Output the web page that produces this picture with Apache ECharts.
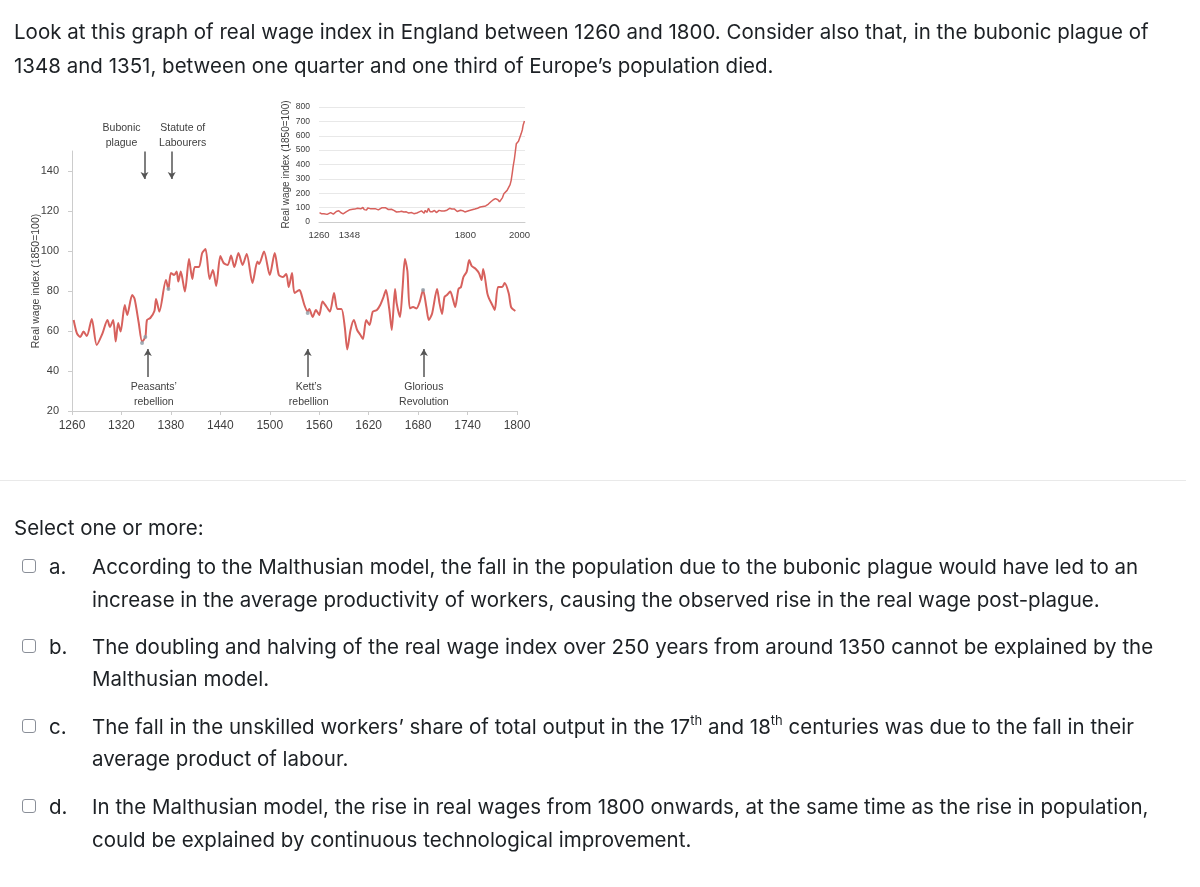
<!DOCTYPE html>
<html><head><meta charset="utf-8">
<script src="https://cdn.jsdelivr.net/npm/echarts@6/dist/echarts.min.js"></script>
<style>
html,body{margin:0;padding:0;background:#fff;}
#chart{position:absolute;left:0;top:0;width:1200px;height:887px;}
.t{position:absolute;font-family:Inter,"Liberation Sans",Arial,sans-serif;font-size:20.5px;color:#1d2125;white-space:nowrap;line-height:34px;height:34px;}
.t sup{font-size:13px;line-height:0;position:relative;top:-1px;}
.cb{position:absolute;left:22px;width:12px;height:12px;border:1.5px solid #8a8f98;border-radius:3px;background:#fff;}
.sep{position:absolute;left:0;top:480px;width:1186px;height:1px;background:#e9e9e9;}
</style></head><body>
<div id="chart"></div>
<div class="t" style="left:14px;top:15px">Look at this graph of real wage index in England between 1260 and 1800. Consider also that, in the bubonic plague of</div>
<div class="t" style="left:14px;top:49px">1348 and 1351, between one quarter and one third of Europe’s population died.</div>
<div class="sep"></div>
<div class="t" style="left:14px;top:511px">Select one or more:</div>
<div class="cb" style="top:559px"></div>
<div class="t" style="left:49px;top:550px">a.</div>
<div class="t" style="left:92px;top:550px">According to the Malthusian model, the fall in the population due to the bubonic plague would have led to an</div>
<div class="t" style="left:92px;top:583px">increase in the average productivity of workers, causing the observed rise in the real wage post-plague.</div>
<div class="cb" style="top:639px"></div>
<div class="t" style="left:49px;top:630px">b.</div>
<div class="t" style="left:92px;top:630px">The doubling and halving of the real wage index over 250 years from around 1350 cannot be explained by the</div>
<div class="t" style="left:92px;top:662px">Malthusian model.</div>
<div class="cb" style="top:719px"></div>
<div class="t" style="left:49px;top:710px">c.</div>
<div class="t" style="left:92px;top:710px">The fall in the unskilled workers’ share of total output in the 17<sup>th</sup> and 18<sup>th</sup> centuries was due to the fall in their</div>
<div class="t" style="left:92px;top:742px">average product of labour.</div>
<div class="cb" style="top:799px"></div>
<div class="t" style="left:49px;top:790px">d.</div>
<div class="t" style="left:92px;top:790px">In the Malthusian model, the rise in real wages from 1800 onwards, at the same time as the rise in population,</div>
<div class="t" style="left:92px;top:823px">could be explained by continuous technological improvement.</div>
<script>
// ---- data ----
const years = [1262,1266,1270,1274,1278,1284,1290,1297,1303,1306,1310,1313,1316,1319,1324,1327,1333,1336,1341,1345,1349,1351,1355,1360,1362,1366,1374,1377,1380,1384,1387,1389,1392,1397,1402,1406,1409,1414,1418,1422,1427,1431,1435,1440,1444,1449,1453,1457,1462,1467,1472,1479,1485,1487,1493,1500,1506,1511,1516,1520,1523,1527,1530,1536,1538,1542,1546,1548,1552,1556,1560,1564,1569,1573,1578,1582,1587,1591,1594,1598,1602,1606,1610,1613,1617,1621,1625,1630,1634,1638,1641,1645,1648,1652,1654,1658,1661,1664,1667,1670,1674,1678,1682,1686,1690,1693,1697,1703,1706,1709,1712,1715,1719,1722,1725,1729,1732,1735,1739,1742,1745,1750,1754,1757,1759,1764,1766,1770,1773,1777,1782,1785,1790,1793,1798];
const wages = [65.5,58.8,57,59.7,57.5,66,53,58.8,65.5,62,65.5,54.7,64,59.7,73,68,78,76,64,54.7,57,65.5,66.5,70,76,69.7,85.5,81,89,88,89.7,84.7,89.7,79.7,96,86,92,92,99,101,86,90.5,82.5,97.5,94,93,97.7,92,99,93,98.5,84,94.7,93.5,99.7,88,99,88,87,88.5,82,89,79,80.5,78.8,73,69.7,71,67,70.5,68,74.7,72,69.7,79,71,71,62,50.8,60.5,65.5,60.5,58,56,65.5,63,69.7,70.5,73,77,80.5,71,60.5,81,73.8,67,80.5,96,90,71.3,72,71.3,74.7,80.5,72,65.5,68.8,81,73.8,68.5,77,78,79.7,76.3,72,81,82,87,89.7,95.5,92.5,91,88.8,85.5,91,78.8,76.3,73,70.5,82,82,84,78.8,71.8,70];
const modernYears = [1805,1815,1825,1835,1845,1855,1865,1875,1885,1893,1903,1911,1920,1926,1932,1937,1942,1948,1954,1960,1965,1969,1973,1976,1981,1985,1988,1991,1996,2001,2006,2010,2013,2018];
const modernWages = [78,80,85,90,96,104,108,112,125,139,155,163,155,140,128,170,197,210,220,225,260,290,340,383,440,500,545,557,562,568,615,640,673,703];
const mainXTicks = [1260,1320,1380,1440,1500,1560,1620,1680,1740,1800];
const mainYTicks = [20,40,60,80,100,120,140];
const insetXLabels = [1260,1348,1800,2000];
const markerYears = [1345,1349,1377,1546,1686];
const markerWages = [54,57,81,69,80.5];
const topEvents = ['Bubonic\nplague','Statute of\nLabourers'];
const topEventYears = [1348,1381];
const bottomEvents = ["Peasants’\nrebellion","Kett’s\nrebellion",'Glorious\nRevolution'];
const bottomEventYears = [1352,1546,1687];

// ---- chart ----
const FONT = '"Liberation Sans", Arial, sans-serif';
const TXT = '#404040';
const AX = '#cccccc';
const RED = '#d7615d';
const mainData = years.map((y,i)=>[y,wages[i]]);
const insetData = mainData.concat(modernYears.map((y,i)=>[y,modernWages[i]]));
const chart = echarts.init(document.getElementById('chart'), null, {renderer:'canvas'});

const arrowLines = [];
topEventYears.forEach(y=>arrowLines.push([{coord:[y,149.8]},{coord:[y,136]}]));
bottomEventYears.forEach(y=>arrowLines.push([{coord:[y,37]},{coord:[y,51]}]));
const plain = v => String(v);

chart.setOption({
  animation:false,
  backgroundColor:'transparent',
  textStyle:{fontFamily:FONT},
  grid:[
    {left:72, top:151, width:445, height:260},
    {left:319, top:107, width:206, height:115}
  ],
  xAxis:[
    {type:'value', gridIndex:0, min:1260, max:1800, interval:60,
     axisLine:{show:true, onZero:false, lineStyle:{color:AX, width:1}},
     axisTick:{show:true, length:4, customValues:mainXTicks, lineStyle:{color:AX}},
     axisLabel:{color:TXT, fontSize:12, margin:9, fontFamily:FONT, customValues:mainXTicks, formatter:plain},
     splitLine:{show:false}},
    {type:'value', gridIndex:1, min:1260, max:2020,
     axisLine:{show:true, onZero:false, lineStyle:{color:AX, width:1}},
     axisTick:{show:false},
     axisLabel:{color:TXT, fontSize:9.5, margin:8, fontFamily:FONT, customValues:insetXLabels,
       formatter:v => v === 1348 ? '{s|1348}' : String(v),
       rich:{s:{color:TXT, fontSize:9.5, fontFamily:FONT, padding:[0,0,0,13]}}},
     splitLine:{show:false}}
  ],
  yAxis:[
    {type:'value', gridIndex:0, min:20, max:150, interval:20,
     name:'Real wage index (1850=100)', nameLocation:'middle', nameGap:30, nameMoveOverlap:false,
     nameTextStyle:{color:TXT, fontSize:10.5, fontFamily:FONT},
     axisLine:{show:true, onZero:false, lineStyle:{color:AX, width:1}},
     axisTick:{show:true, length:4, customValues:mainYTicks, lineStyle:{color:AX}},
     axisLabel:{color:TXT, fontSize:11, margin:13, fontFamily:FONT, customValues:mainYTicks, formatter:plain},
     splitLine:{show:false}},
    {type:'value', gridIndex:1, min:0, max:800, interval:100,
     name:'Real wage index (1850=100)', nameLocation:'middle', nameGap:28, nameMoveOverlap:false,
     nameTextStyle:{color:TXT, fontSize:10, fontFamily:FONT},
     axisLine:{show:false}, axisTick:{show:false},
     axisLabel:{color:TXT, fontSize:8.5, margin:9, fontFamily:FONT, formatter:plain},
     splitLine:{show:true, lineStyle:{color:'#e8e8e8', width:1}}}
  ],
  series:[
    {type:'line', xAxisIndex:0, yAxisIndex:0, data:mainData, showSymbol:false, smooth:0.25,
     lineStyle:{color:RED, width:2}, silent:true,
     markLine:{silent:true, symbol:['none','arrow'], symbolSize:[6,7], animation:false,
       lineStyle:{color:'#555', width:1.5, type:'solid'}, label:{show:false},
       emphasis:{disabled:true}, data:arrowLines}},
    {type:'scatter', xAxisIndex:0, yAxisIndex:0, data:markerYears.map((y,i)=>[y,markerWages[i]]),
     symbolSize:4, itemStyle:{color:'#8d9ca6'}, silent:true, z:3},
    {type:'line', xAxisIndex:1, yAxisIndex:1, data:insetData, showSymbol:false,
     lineStyle:{color:RED, width:1.5}, silent:true}
  ]
});

// annotation texts, anchored through the axis scales
const px = (x,y)=>chart.convertToPixel({gridIndex:0},[x,y]);
const textOffsetsTop = [-23, 11];
const textOffsetsBottom = [6, 1, 0];
const graphics = [];
topEvents.forEach((t,i)=>{
  const p = px(topEventYears[i], 157.8);
  graphics.push({type:'text', x:p[0]+textOffsetsTop[i], y:p[1],
    style:{text:t, fill:TXT, font:'10.5px '+FONT, textAlign:'center', textVerticalAlign:'middle', lineHeight:15}, silent:true});
});
bottomEvents.forEach((t,i)=>{
  const p = px(bottomEventYears[i], 28.4);
  graphics.push({type:'text', x:p[0]+textOffsetsBottom[i], y:p[1],
    style:{text:t, fill:TXT, font:'10.5px '+FONT, textAlign:'center', textVerticalAlign:'middle', lineHeight:15}, silent:true});
});
chart.setOption({graphic:graphics});
</script>
</body></html>
